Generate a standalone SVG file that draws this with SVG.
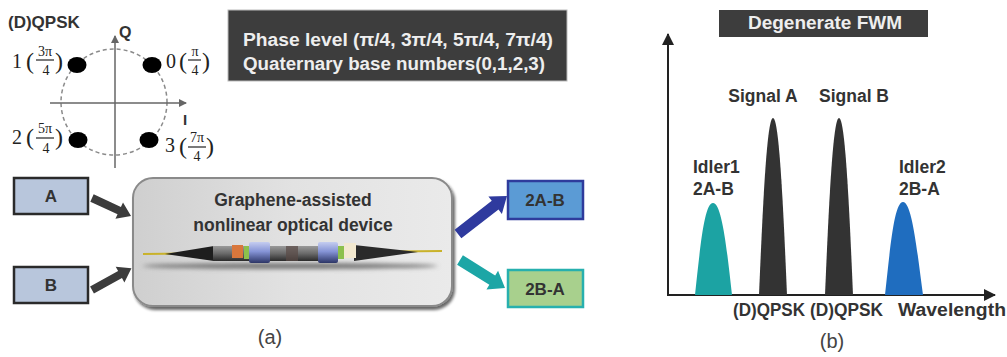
<svg xmlns="http://www.w3.org/2000/svg" width="1007" height="357" viewBox="0 0 1007 357">
  <defs>
    <style>
      .sans { font-family: "Liberation Sans", Arial, sans-serif; font-weight: bold; }
      .serif { font-family: "Liberation Serif", "Times New Roman", serif; fill: #222; }
      .num { font-size: 14px; text-anchor: middle; }
      .par { font-size: 24px; }
      .dig { font-size: 20px; }
      .dark { fill: #333; }
      .light { fill: #eeeeee; }
      .axis { stroke: #666; stroke-width: 1.5; fill: none; }
      .dot { fill: #000; }
      .frac { stroke: #222; stroke-width: 1.2; }
      .caption { font-family: "Liberation Sans", Arial, sans-serif; font-size: 20px; fill: #444; }
      .inbox { fill: #b8c6dc; stroke: #2a2a2a; stroke-width: 2.5; }
    </style>
    <marker id="arrSmall" markerWidth="8" markerHeight="8" refX="7" refY="4" orient="auto" markerUnits="userSpaceOnUse">
      <path d="M0,0 L8,4 L0,8 Z" fill="#666"/>
    </marker>
    <marker id="arrAxis" markerWidth="12" markerHeight="12" refX="11" refY="6" orient="auto" markerUnits="userSpaceOnUse">
      <path d="M0,0 L12,6 L0,12 Z" fill="#222"/>
    </marker>
    <linearGradient id="boxFill" x1="0" y1="0" x2="1" y2="0">
      <stop offset="0" stop-color="#cfcfcf"/>
      <stop offset="0.5" stop-color="#e2e2e2"/>
      <stop offset="1" stop-color="#eaeaea"/>
    </linearGradient>
    <linearGradient id="cylBlue" x1="0" y1="0" x2="0" y2="1">
      <stop offset="0" stop-color="#c5cdf0"/>
      <stop offset="0.45" stop-color="#8694d6"/>
      <stop offset="1" stop-color="#2c3566"/>
    </linearGradient>
    <linearGradient id="tube" x1="0" y1="0" x2="0" y2="1">
      <stop offset="0" stop-color="#9a9a9a"/>
      <stop offset="0.5" stop-color="#6a6a6a"/>
      <stop offset="1" stop-color="#2a2a2a"/>
    </linearGradient>
    <filter id="soft" x="-10%" y="-100%" width="120%" height="300%">
      <feGaussianBlur stdDeviation="2"/>
    </filter>
    <filter id="boxShadow" x="-5%" y="-5%" width="112%" height="115%">
      <feGaussianBlur in="SourceAlpha" stdDeviation="1.5"/>
      <feOffset dx="2" dy="3" result="b"/>
      <feComponentTransfer><feFuncA type="linear" slope="0.6"/></feComponentTransfer>
      <feMerge><feMergeNode/><feMergeNode in="SourceGraphic"/></feMerge>
    </filter>
  </defs>

  <rect width="1007" height="357" fill="#fff"/>

  <!-- (D)QPSK constellation -->
  <g id="constellation">
    <text class="sans dark" x="8" y="28" font-size="17">(D)QPSK</text>
    <circle cx="114" cy="102" r="53" fill="none" stroke="#8a8a8a" stroke-width="1.5" stroke-dasharray="4 3"/>
    <line class="axis" x1="115" y1="168" x2="115" y2="36" marker-end="url(#arrSmall)"/>
    <line class="axis" x1="50" y1="103" x2="186" y2="103" marker-end="url(#arrSmall)"/>
    <text class="sans dark" x="119" y="38" font-size="16">Q</text>
    <text class="sans dark" x="183" y="125" font-size="15" font-weight="normal">I</text>
    <ellipse class="dot" cx="77" cy="65" rx="9.5" ry="8"/>
    <ellipse class="dot" cx="152" cy="65" rx="9.5" ry="8"/>
    <ellipse class="dot" cx="78" cy="140" rx="9.5" ry="8"/>
    <ellipse class="dot" cx="149" cy="140" rx="9.5" ry="8"/>
    <!-- 1 (3π/4) -->
    <text class="serif dig" x="12" y="68">1</text>
    <text class="serif par" x="26" y="69">(</text>
    <text class="serif num" x="45" y="56">3π</text>
    <line class="frac" x1="36" y1="60" x2="54" y2="60"/>
    <text class="serif num" x="46" y="75">4</text>
    <text class="serif par" x="55" y="69">)</text>
    <!-- 0 (π/4) -->
    <text class="serif dig" x="166" y="68">0</text>
    <text class="serif par" x="179" y="69">(</text>
    <text class="serif num" x="195" y="56">π</text>
    <line class="frac" x1="188" y1="60" x2="201" y2="60"/>
    <text class="serif num" x="195" y="75">4</text>
    <text class="serif par" x="202" y="69">)</text>
    <!-- 2 (5π/4) -->
    <text class="serif dig" x="12" y="144">2</text>
    <text class="serif par" x="26" y="145">(</text>
    <text class="serif num" x="45" y="133">5π</text>
    <line class="frac" x1="36" y1="138" x2="54" y2="138"/>
    <text class="serif num" x="46" y="153">4</text>
    <text class="serif par" x="55" y="145">)</text>
    <!-- 3 (7π/4) -->
    <text class="serif dig" x="165" y="152">3</text>
    <text class="serif par" x="179" y="154">(</text>
    <text class="serif num" x="197" y="142">7π</text>
    <line class="frac" x1="188" y1="147" x2="206" y2="147"/>
    <text class="serif num" x="197" y="161">4</text>
    <text class="serif par" x="206" y="154">)</text>
  </g>

  <!-- phase level note -->
  <g id="phase-note">
    <rect x="228" y="10" width="339" height="71" fill="#3d3d3d" stroke="#bbb" stroke-width="1"/>
    <text class="sans light" x="243" y="46" font-size="18" textLength="310" lengthAdjust="spacingAndGlyphs">Phase level (π/4, 3π/4, 5π/4, 7π/4)</text>
    <text class="sans light" x="243" y="70" font-size="18" textLength="302" lengthAdjust="spacingAndGlyphs">Quaternary base numbers(0,1,2,3)</text>
  </g>

  <!-- input signals -->
  <g id="input-a">
    <rect class="inbox" x="14" y="178" width="74" height="36"/>
    <text class="sans dark" x="51" y="202" font-size="17" text-anchor="middle">A</text>
  </g>
  <g id="input-b">
    <rect class="inbox" x="14" y="267" width="74" height="36"/>
    <text class="sans dark" x="51" y="291" font-size="17" text-anchor="middle">B</text>
  </g>

  <!-- nonlinear device -->
  <g id="device">
    <rect x="133" y="178" width="319" height="128" rx="20" ry="20" fill="url(#boxFill)" stroke="#8a8a8a" stroke-width="2" filter="url(#boxShadow)"/>
    <text class="sans dark" x="293" y="206" font-size="17.5" text-anchor="middle">Graphene-assisted</text>
    <text class="sans dark" x="293" y="231" font-size="17.5" text-anchor="middle">nonlinear optical device</text>
    <!-- fiber component sketch -->
    <ellipse cx="290" cy="266" rx="148" ry="3" fill="#777" filter="url(#soft)"/>
    <line x1="143" y1="254" x2="442" y2="251" stroke="#c9b22a" stroke-width="2"/>
    <path d="M165,254 L214,246 L214,261 Z" fill="#1e1e1e"/>
    <path d="M418,252 L354,245 L354,261 Z" fill="#2a2a2a"/>
    <rect x="213" y="246" width="38" height="15" fill="url(#tube)"/>
    <rect x="232" y="245" width="11" height="13" fill="#d9773c"/>
    <rect x="244" y="246" width="6" height="13" fill="#8cc04c"/>
    <rect x="249" y="242" width="21" height="21" rx="2" fill="url(#cylBlue)"/>
    <rect x="270" y="246" width="48" height="15" fill="url(#tube)"/>
    <rect x="286" y="246" width="12" height="15" fill="#5a4a46" opacity="0.7"/>
    <rect x="318" y="242" width="20" height="21" rx="2" fill="url(#cylBlue)"/>
    <rect x="338" y="246" width="6" height="13" fill="#8cc04c"/>
    <rect x="344" y="243" width="12" height="15" fill="#f2e8cf"/>
  </g>

  <!-- output idlers -->
  <g id="output-2a-b">
    <rect x="508" y="181" width="75" height="38" fill="#5b9bd5" stroke="#2e3b9c" stroke-width="2.5"/>
    <text class="sans dark" x="545" y="206" font-size="17" text-anchor="middle">2A-B</text>
  </g>
  <g id="output-2b-a">
    <rect x="508" y="270" width="75" height="37" fill="#a8d08d" stroke="#27b0ae" stroke-width="2.5"/>
    <text class="sans dark" x="545" y="295" font-size="17" text-anchor="middle">2B-A</text>
  </g>

  <!-- connectors -->
  <g id="connectors">
    <path transform="translate(92,198) rotate(24.8)" d="M0,-4 L30,-4 L30,-9 L43,0 L30,9 L30,4 L0,4 Z" fill="#3c3c3c"/>
    <path transform="translate(92,290) rotate(-28.8)" d="M0,-4 L32,-4 L32,-9 L45,0 L32,9 L32,4 L0,4 Z" fill="#3c3c3c"/>
    <path transform="translate(458,234) rotate(-37.8)" d="M0,-5.5 L47,-5.5 L47,-11 L62,0 L47,11 L47,5.5 L0,5.5 Z" fill="#2f3a9e"/>
    <path transform="translate(460,260) rotate(31.9)" d="M0,-5.5 L38,-5.5 L38,-11 L53,0 L38,11 L38,5.5 L0,5.5 Z" fill="#1ca6a6"/>
  </g>

  <text class="caption" x="270" y="344" text-anchor="middle">(a)</text>

  <!-- spectrum panel -->
  <g id="fwm-title">
    <rect x="719" y="10" width="209" height="27" fill="#3d3d3d"/>
    <text class="sans light" x="825" y="29" font-size="18" text-anchor="middle" textLength="154" lengthAdjust="spacingAndGlyphs">Degenerate FWM</text>
  </g>

  <g id="spectrum-axes">
    <line x1="668" y1="296" x2="668" y2="34" stroke="#222" stroke-width="2" marker-end="url(#arrAxis)"/>
    <line x1="667" y1="295" x2="995" y2="295" stroke="#222" stroke-width="2" marker-end="url(#arrAxis)"/>
  </g>

  <g id="idler1">
    <path d="M695,295 C700,250 704,203 713,203 C722,203 727,250 732,295 Z" fill="#1ca3a3"/>
    <text class="sans dark" x="693" y="173" font-size="17.5">Idler1</text>
    <text class="sans dark" x="693" y="195" font-size="17.5">2A-B</text>
  </g>
  <g id="signal-a">
    <path d="M759,295 C763,200 767,118 773,118 C779,118 783,200 787,295 Z" fill="#333"/>
    <text class="sans dark" x="763" y="102" font-size="17.5" text-anchor="middle">Signal A</text>
  </g>
  <g id="signal-b">
    <path d="M825,295 C829,200 833,118 839,118 C845,118 849,200 853,295 Z" fill="#333"/>
    <text class="sans dark" x="854" y="102" font-size="17.5" text-anchor="middle">Signal B</text>
  </g>
  <g id="idler2">
    <path d="M885,295 C890,250 894,202 903,202 C912,202 917,250 923,295 Z" fill="#1f6dbf"/>
    <text class="sans dark" x="899" y="173" font-size="17.5">Idler2</text>
    <text class="sans dark" x="899" y="195" font-size="17.5">2B-A</text>
  </g>

  <g id="spectrum-labels">
    <text class="sans dark" x="733" y="316" font-size="17.5" textLength="72" lengthAdjust="spacingAndGlyphs">(D)QPSK</text>
    <text class="sans dark" x="810" y="316" font-size="17.5" textLength="73" lengthAdjust="spacingAndGlyphs">(D)QPSK</text>
    <text class="sans dark" x="898" y="316" font-size="18" textLength="108" lengthAdjust="spacingAndGlyphs">Wavelength</text>
  </g>

  <text class="caption" x="832" y="348" text-anchor="middle">(b)</text>
</svg>
